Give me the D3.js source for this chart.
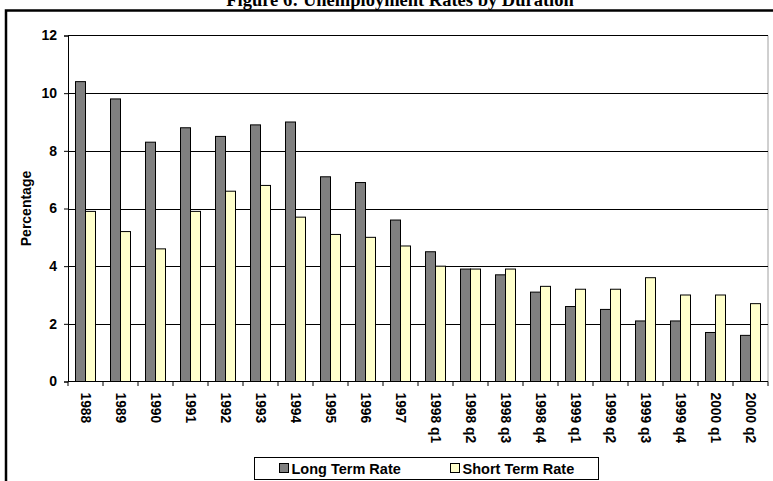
<!DOCTYPE html>
<html>
<head>
<meta charset="utf-8">
<script src="https://cdn.jsdelivr.net/npm/d3@7"></script>
<style>
  html, body { margin: 0; padding: 0; background: #fff; }
  svg { display: block; }
  text { font-family: Arial, "Liberation Sans", sans-serif; font-weight: bold; }
</style>
</head>
<body>
<script>
// Unemployment rate by duration of unemployment
const categories = ["1988", "1989", "1990", "1991", "1992", "1993", "1994", "1995", "1996", "1997",
  "1998 q1", "1998 q2", "1998 q3", "1998 q4", "1999 q1", "1999 q2", "1999 q3", "1999 q4", "2000 q1", "2000 q2"];
const longTermRate = [10.4, 9.8, 8.3, 8.8, 8.5, 8.9, 9.0, 7.1, 6.9, 5.6,
  4.5, 3.9, 3.7, 3.1, 2.6, 2.5, 2.1, 2.1, 1.7, 1.6];
const shortTermRate = [5.9, 5.2, 4.6, 5.9, 6.6, 6.8, 5.7, 5.1, 5.0, 4.7,
  4.0, 3.9, 3.9, 3.3, 3.2, 3.2, 3.6, 3.0, 3.0, 2.7];
const seriesNames = ["Long Term Rate", "Short Term Rate"];
const seriesColors = ["#808080", "#FFFFCC"];
const yTicks = [0, 2, 4, 6, 8, 10, 12];

const W = 773, H = 481;
const plot = { left: 68, right: 768, top: 35.5, bottom: 381.5 };

const svg = d3.select("body").append("svg").attr("width", W).attr("height", H);

// Title, clipped by the top of the page
svg.append("text")
  .attr("x", 400).attr("y", 5.5)
  .attr("text-anchor", "middle")
  .style("font-family", "'Liberation Serif', 'Times New Roman', serif")
  .style("font-size", "18.5px")
  .text("Figure 6: Unemployment Rates by Duration");

// Outer chart frame
svg.append("rect")
  .attr("x", 6).attr("y", 10.5)
  .attr("width", 820).attr("height", 520)
  .attr("fill", "none").attr("stroke", "#000").attr("stroke-width", 2.5);

const x = d3.scaleBand().domain(categories)
  .range([plot.left, plot.right])
  .paddingInner(15 / 35).paddingOuter(7.5 / 35);
const xSeries = d3.scaleBand().domain(seriesNames).range([0, x.bandwidth()]);
const y = d3.scaleLinear().domain([0, 12]).range([plot.bottom, plot.top]);

// Plot area border (top and right, light grey)
svg.append("path")
  .attr("d", `M${plot.left},${plot.top}H${plot.right}V${plot.bottom}`)
  .attr("fill", "none").attr("stroke", "#a0a0a0").attr("stroke-width", 1);

// Horizontal gridlines
svg.append("g").selectAll("line")
  .data(yTicks.filter(d => d > 0 && d < 12))
  .join("line")
  .attr("x1", plot.left).attr("x2", plot.right)
  .attr("y1", d => Math.round(y(d)) + 0.5).attr("y2", d => Math.round(y(d)) + 0.5)
  .attr("stroke", "#000").attr("stroke-width", 1);
svg.append("line")
  .attr("x1", plot.left).attr("x2", plot.right)
  .attr("y1", y(12)).attr("y2", y(12))
  .attr("stroke", "#000").attr("stroke-width", 1);

// Bars
const rows = categories.map((c, i) => ({ c, vals: [longTermRate[i], shortTermRate[i]] }));
const groups = svg.append("g").selectAll("g")
  .data(rows).join("g")
  .attr("transform", d => `translate(${x(d.c)},0)`);
groups.selectAll("rect")
  .data(d => d.vals.map((v, k) => ({ v, k })))
  .join("rect")
  .attr("x", d => xSeries(seriesNames[d.k]))
  .attr("y", d => y(d.v))
  .attr("width", xSeries.bandwidth())
  .attr("height", d => y(0) - y(d.v))
  .attr("fill", d => seriesColors[d.k])
  .attr("stroke", "#000").attr("stroke-width", 1);

// Y axis
const yAxis = svg.append("g")
  .attr("transform", `translate(${plot.left},0)`)
  .call(d3.axisLeft(y).tickValues(yTicks).tickSize(4).tickPadding(7).tickFormat(d3.format("d")));
yAxis.select(".domain").attr("stroke", "#000");
yAxis.selectAll(".tick line").attr("stroke", "#000");
yAxis.selectAll("text")
  .style("font-size", "14px").attr("fill", "#000");

// X axis with tick marks at category boundaries
const boundaries = categories.map(c => x(c) - x.step() * x.paddingInner() / 2)
  .concat([plot.right]);
svg.append("line")
  .attr("x1", plot.left).attr("x2", plot.right)
  .attr("y1", plot.bottom).attr("y2", plot.bottom)
  .attr("stroke", "#000").attr("stroke-width", 1.2);
svg.append("g").selectAll("line")
  .data(boundaries).join("line")
  .attr("x1", d => d).attr("x2", d => d)
  .attr("y1", plot.bottom).attr("y2", plot.bottom + 4.5)
  .attr("stroke", "#000");

svg.append("g").selectAll("text")
  .data(categories).join("text")
  .attr("transform", d => `translate(${x(d) + x.bandwidth() / 2},${plot.bottom + 11}) rotate(90)`)
  .attr("dy", "0.35em")
  .attr("text-anchor", "start")
  .style("font-size", "13.8px")
  .text(d => d);

// Y axis title
svg.append("text")
  .attr("transform", `translate(26,${(plot.top + plot.bottom) / 2}) rotate(-90)`)
  .attr("dy", "0.35em")
  .attr("text-anchor", "middle")
  .style("font-size", "14px")
  .text("Percentage");

// Legend
const legend = svg.append("g");
legend.append("rect")
  .attr("x", 254.5).attr("y", 457.5).attr("width", 344).attr("height", 22)
  .attr("fill", "#fff").attr("stroke", "#000").attr("stroke-width", 1);
const legendX = [279, 450];
seriesNames.forEach((name, k) => {
  legend.append("rect")
    .attr("x", legendX[k] + 0.5).attr("y", 463.5).attr("width", 9).attr("height", 9)
    .attr("fill", seriesColors[k]).attr("stroke", "#000").attr("stroke-width", 1);
  legend.append("text")
    .attr("x", legendX[k] + 12.5).attr("y", 473.5)
    .style("font-size", "14.5px")
    .text(name);
});
</script>
</body>
</html>
